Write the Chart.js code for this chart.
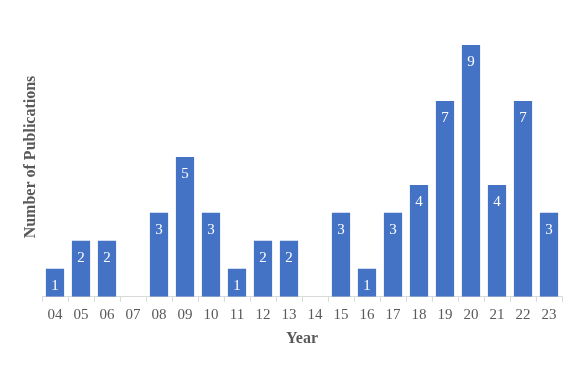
<!DOCTYPE html>
<html>
<head>
<meta charset="utf-8">
<script src="https://cdn.jsdelivr.net/npm/chart.js@4/dist/chart.umd.min.js"></script>
<style>
  html, body { margin: 0; padding: 0; background: #fff; }
  #wrap { width: 581px; height: 366px; }
</style>
</head>
<body>
<div id="wrap"><canvas id="chart"></canvas></div>
<script>
// Publications per year (two-digit year labels)
const years = ['04', '05', '06', '07', '08', '09', '10', '11', '12', '13',
               '14', '15', '16', '17', '18', '19', '20', '21', '22', '23'];
const publications = [1, 2, 2, 0, 3, 5, 3, 1, 2, 2,
                      0, 3, 1, 3, 4, 7, 9, 4, 7, 3];

const serif = "'Liberation Serif', 'Times New Roman', serif";
const gray = '#595959';

// white value labels near the top of each bar
const barLabels = {
    id: 'barLabels',
    afterDatasetsDraw(chart) {
        const ctx = chart.ctx;
        const meta = chart.getDatasetMeta(0);
        ctx.save();
        ctx.fillStyle = '#ffffff';
        ctx.font = `15px ${serif}`;
        ctx.textAlign = 'center';
        ctx.textBaseline = 'middle';
        meta.data.forEach((bar, i) => {
            const v = publications[i];
            if (!v) return;
            ctx.fillText(String(v), bar.x, bar.y + 17);
        });
        ctx.restore();
    }
};

// y axis title, drawn by hand since the axis itself is hidden
const yTitle = {
    id: 'yTitle',
    afterDraw(chart) {
        const ctx = chart.ctx;
        ctx.save();
        ctx.translate(31, 157);
        ctx.rotate(-Math.PI / 2);
        ctx.fillStyle = gray;
        ctx.font = `bold 16px ${serif}`;
        ctx.textAlign = 'center';
        ctx.textBaseline = 'middle';
        ctx.fillText('Number of Publications', 0, 0);
        ctx.restore();
    }
};

new Chart(document.getElementById('chart'), {
    type: 'bar',
    data: {
        labels: years,
        datasets: [{
            data: publications,
            backgroundColor: '#4472C4',
            barPercentage: 0.7,
            categoryPercentage: 1
        }]
    },
    options: {
        responsive: true,
        maintainAspectRatio: false,
        animation: false,
        layout: { padding: { left: 42, right: 19, top: 45, bottom: 18 } },
        plugins: {
            legend: { display: false },
            tooltip: { enabled: false }
        },
        scales: {
            x: {
                offset: true,
                grid: {
                    offset: true,
                    drawOnChartArea: false,
                    drawTicks: true,
                    tickLength: 5,
                    color: '#d9d9d9'
                },
                border: { color: '#d9d9d9', width: 1 },
                ticks: {
                    color: gray,
                    font: { family: serif, size: 15 },
                    padding: 4,
                    maxRotation: 0
                },
                title: {
                    display: true,
                    text: 'Year',
                    color: gray,
                    font: { family: serif, size: 16, weight: 'bold' },
                    padding: { top: 1, bottom: 0 }
                }
            },
            y: {
                display: false,
                min: 0,
                max: 9
            }
        }
    },
    plugins: [barLabels, yTitle]
});
</script>
</body>
</html>
